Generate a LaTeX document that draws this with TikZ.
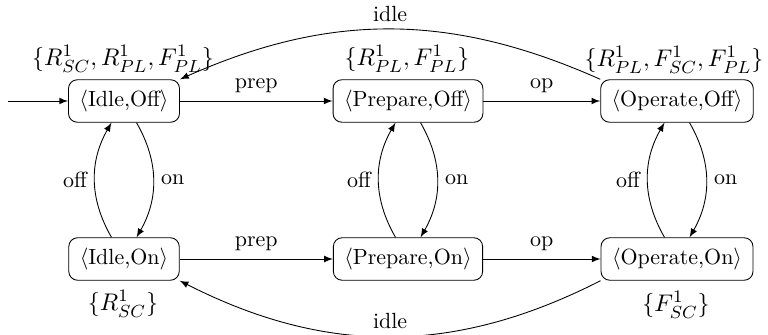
\documentclass[tikz,border=0pt]{standalone}
\usetikzlibrary{arrows}
\begin{document}
\begin{tikzpicture}[x=0.016cm,y=0.016cm,
  state/.style={draw,rounded corners=4pt,minimum height=0.68cm,inner xsep=5pt},
  tr/.style={-latex},
  setlbl/.style={font=\fontsize{11.4}{13.5}\selectfont}]
\useasboundingbox (0,0) rectangle (768,334);
\node[state] (io) at (124,233) {$\langle$Idle,Off$\rangle$};
\node[state] (po) at (408,233) {$\langle$Prepare,Off$\rangle$};
\node[state] (oo) at (677,233) {$\langle$Operate,Off$\rangle$};
\node[state] (in) at (124,75) {$\langle$Idle,On$\rangle$};
\node[state] (pn) at (408,75) {$\langle$Prepare,On$\rangle$};
\node[state] (on) at (677,75) {$\langle$Operate,On$\rangle$};
\node[setlbl] (sio) at (123,275) {$\{R^1_{SC},R^1_{PL},F^1_{PL}\}$};
\node[setlbl] (spo) at (407,275) {$\{R^1_{PL},F^1_{PL}\}$};
\node[setlbl] (soo) at (674,274) {$\{R^1_{PL},F^1_{SC},F^1_{PL}\}$};
\node[setlbl] (sin) at (123,30) {$\{R^1_{SC}\}$};
\node[setlbl] (son) at (676,29) {$\{F^1_{SC}\}$};
\coordinate (start) at (8,233);
\draw[tr] (start) -- (io);
\draw[tr] (io) -- node[above] {prep} (po);
\draw[tr] (po) -- node[above] {op} (oo);
\draw[tr] (in) -- node[above] {prep} (pn);
\draw[tr] (pn) -- node[above] {op} (on);
\foreach \a/\b in {io/in,po/pn,oo/on}{
  \draw[tr] (\a) to[bend left=30] node[right] {on} (\b);
  \draw[tr] (\b) to[bend left=30] node[left] {off} (\a);
}
\draw[tr] (oo.north west) to[bend right=24] node[above] {idle} (io.north east);
\draw[tr] (on.south west) to[bend left=27] node[above] {idle} (in.south east);
\end{tikzpicture}
\end{document}
